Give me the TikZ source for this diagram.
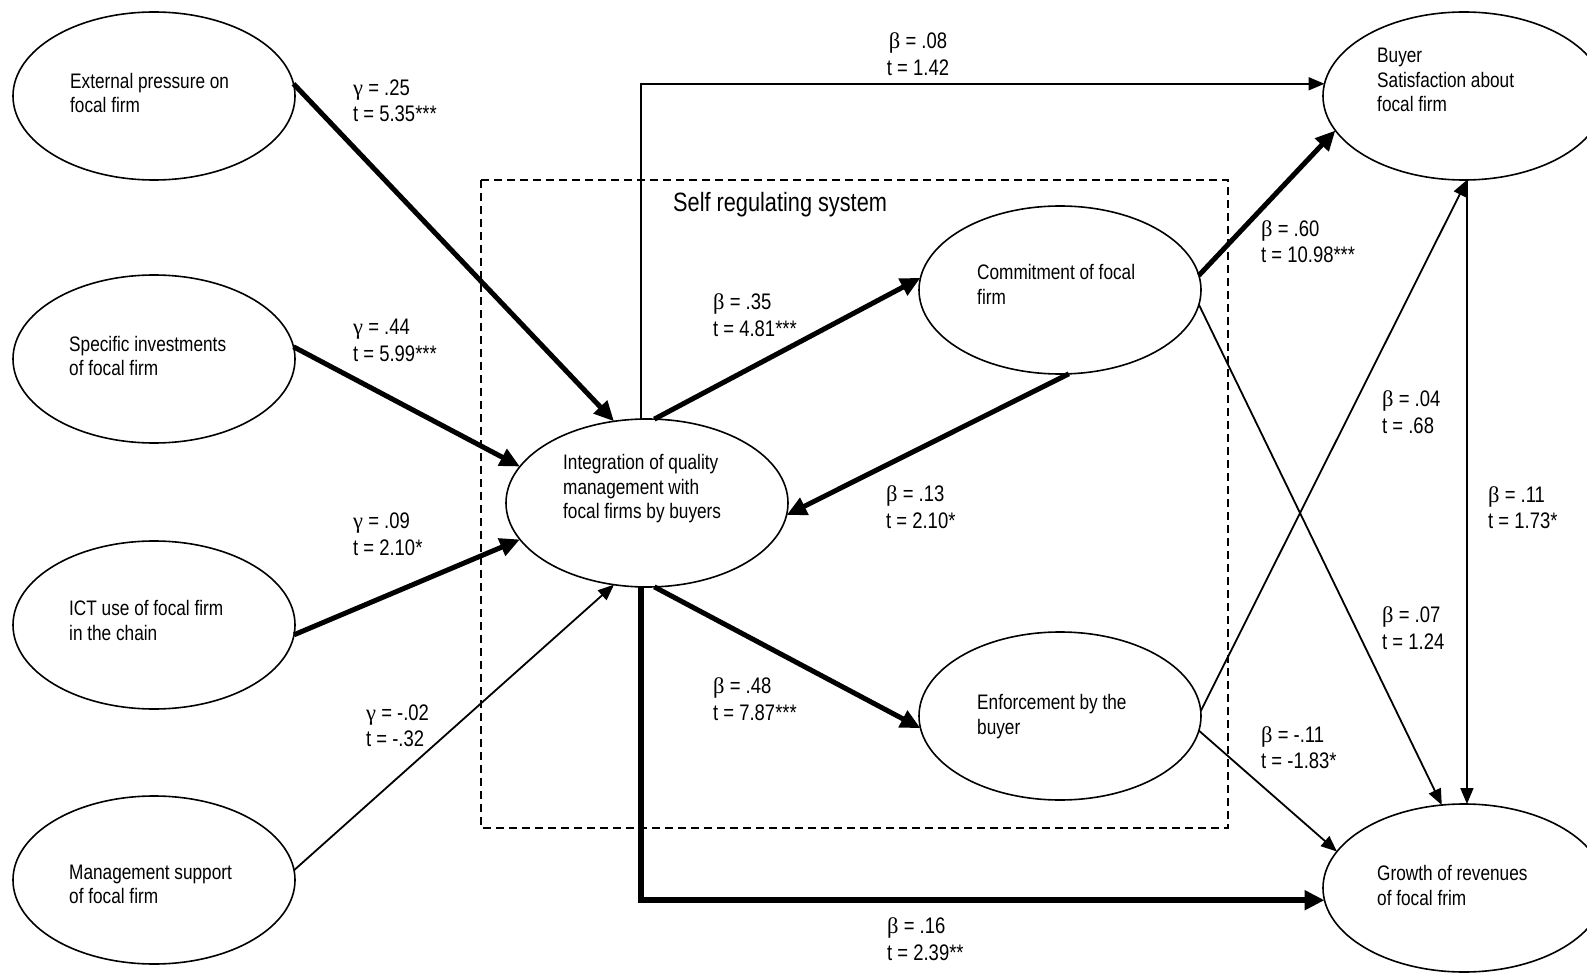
\documentclass[tikz,border=0pt]{standalone}
\usepackage{fontspec}
\setmainfont{Liberation Sans}[FakeStretch=0.82]
\newfontfamily\grk{Liberation Serif}
\usetikzlibrary{arrows.meta,shapes.geometric}

\tikzset{
  latent/.style={draw, ellipse, line width=1.6pt, minimum width=282pt,
    minimum height=168pt, inner sep=0pt, outer sep=0pt},
  nodetext/.style={align=left, anchor=west, inner sep=0pt,
    font=\fontsize{21}{24.5}\selectfont},
  coef/.style={align=left, anchor=west, inner sep=0pt,
    font=\fontsize{22.5}{26.5}\selectfont},
  strong/.style={line width=5pt, -{Triangle[length=20pt,width=18pt]}},
  strongest/.style={line width=6pt, -{Triangle[length=20pt,width=19pt]}},
  weak/.style={line width=1.8pt, -{Triangle[length=16pt,width=13pt]}},
  system/.style={draw, dash pattern=on 8pt off 5pt, line width=1.7pt},
}
\newcommand{\gam}{{\grk γ}}
\newcommand{\bet}{{\grk β}}

\begin{document}
\begin{tikzpicture}[x=1pt, y=-1pt]
\fill[white] (0,0) rectangle (1587,973);
\useasboundingbox (0,0) rectangle (1587,973);

% self regulating system frame
\draw[system] (481,180) rectangle (1228,828);
\node[anchor=west, inner sep=0pt, font=\fontsize{26.5}{30}\selectfont] (srs)
  at (673,205) {Self regulating system};

% latent constructs
\node[latent] (ext)     at (154,96)  {};
\node[latent] (spec)    at (154,359) {};
\node[latent] (ict)     at (154,625) {};
\node[latent] (mgmt)    at (154,880) {};
\node[latent] (integ)   at (647,503) {};
\node[latent] (commit)  at (1060,290) {};
\node[latent] (enforce) at (1060,716) {};
\node[latent] (buyer)   at (1464,96) {};
\node[latent] (growth)  at (1464,888) {};

\node[nodetext] (ext-t)     at (70,93)    {External pressure on\\focal firm};
\node[nodetext] (spec-t)    at (69,356)   {Specific investments\\of focal firm};
\node[nodetext] (ict-t)     at (69,620.5) {ICT use of focal firm\\in the chain};
\node[nodetext] (mgmt-t)    at (69,884.5) {Management support\\of focal firm};
\node[nodetext] (integ-t)   at (563,489)  {Integration of quality\\management with\\focal firms by buyers};
\node[nodetext] (commit-t)  at (977,284.5) {Commitment of focal\\firm};
\node[nodetext] (enforce-t) at (977,716.5) {Enforcement by the\\buyer};
\node[nodetext] (buyer-t)   at (1377,80)  {Buyer\\Satisfaction about\\focal firm};
\node[nodetext] (growth-t)  at (1377,885.5) {Growth of revenues\\of focal frim};

% paths
\draw[strong] (ext.5) -- (integ.112);
\draw[strong] (spec.5) -- (integ.164);
\draw[strong] (ict.-4) -- (integ.-164);
\draw[weak]   (mgmt.4) -- (integ.-112);
\draw[strong] (integ.85) -- (commit.175);
\draw[strong] (commit.-84) -- (integ.-5);
\draw[strong] (integ.-85) -- (enforce.-175);
\draw[strongest] (integ.-94) |- (growth.185);
\draw[weak]   (integ.94) |- (buyer.175.6);
\draw[strong] (commit.6) -- (buyer.-165);
\draw[weak]   (commit.-6) -- (growth.105);
\draw[weak]   (enforce.2.5) -- (buyer.-88);
\draw[weak]   (enforce.-6.5) -- (growth.164);
\draw[weak]   (buyer.-88) -- (buyer.-88 |- growth.north);

% coefficients
\node[coef] (c1)  at (353,101)   {\gam{} = .25\\t = 5.35***};
\node[coef] (c2)  at (353,340.5) {\gam{} = .44\\t = 5.99***};
\node[coef] (c3)  at (353,534.5) {\gam{} = .09\\t = 2.10*};
\node[coef] (c4)  at (366,725.5) {\gam{} = -.02\\t = -.32};
\node[coef, align=center, anchor=center] (c5) at (918,54) {\bet{} = .08\\t = 1.42};
\node[coef] (c6)  at (713,315)   {\bet{} = .35\\t = 4.81***};
\node[coef] (c7)  at (886,507)   {\bet{} = .13\\t = 2.10*};
\node[coef] (c8)  at (713,699)   {\bet{} = .48\\t = 7.87***};
\node[coef] (c9)  at (887,939)   {\bet{} = .16\\t = 2.39**};
\node[coef] (c10) at (1261,241.5) {\bet{} = .60\\t = 10.98***};
\node[coef] (c11) at (1382,412)  {\bet{} = .04\\t = .68};
\node[coef] (c12) at (1488,507.5) {\bet{} = .11\\t = 1.73*};
\node[coef] (c13) at (1382,628)  {\bet{} = .07\\t = 1.24};
\node[coef] (c14) at (1261,747.5) {\bet{} = -.11\\t = -1.83*};
\end{tikzpicture}
\end{document}
